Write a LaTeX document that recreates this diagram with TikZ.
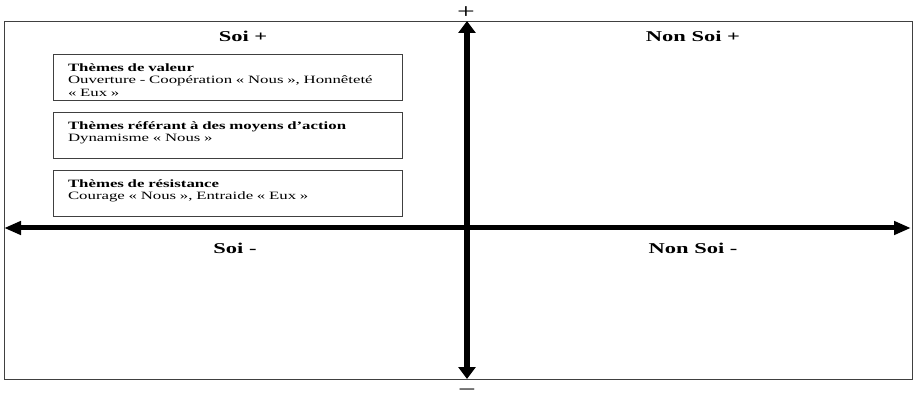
\documentclass[tikz,border=0pt]{standalone}
\usepackage{fontspec}
\setmainfont[FakeStretch=1.5]{Liberation Serif}
\usetikzlibrary{arrows.meta}

\tikzstyle{frame} = [rectangle, draw = black!75, line width = 0.9pt, minimum width = 908pt, minimum height = 358pt, inner sep = 0pt]
\tikzstyle{theme} = [rectangle, draw = black!75, line width = 0.8pt, minimum width = 349pt, minimum height = 46pt, text width = 319pt, inner xsep = 15pt, inner ysep = 8pt, text height = 9pt, text depth = 20pt, align = left, font = \fontsize{11.2}{12.5}\selectfont]
\tikzstyle{quad} = [font = \fontsize{15}{18}\selectfont\bfseries]
\tikzstyle{sign} = [font = \fontsize{21}{24}\selectfont, inner sep = 0pt]
\tikzstyle{haxis} = [line width = 5pt, draw = black, {Triangle[length=17pt, width=13pt]}-{Triangle[length=17pt, width=13pt]}]
\tikzstyle{vaxis} = [line width = 6pt, draw = black, {Triangle[length=12pt, width=17pt]}-{Triangle[length=12pt, width=17pt]}]

\begin{document}
\begin{tikzpicture}[x = 1pt, y = -1pt, node distance = 58pt]
    \useasboundingbox (0,0) rectangle (913,403);
    \node(box)[frame] at (458,200) {};
    % axis ends
    \coordinate (top) at (467,21);
    \coordinate (bottom) at (467,379);
    \coordinate (left) at (4,228);
    \coordinate (right) at (911,228);
    \draw[haxis] (left) -- (right);
    \draw[vaxis] (bottom) -- (top);
    \node(plus)[sign] at (466,13) {+};
    \node(minus)[sign] at (467,393) {−};
    % quadrants
    \node(soi_pos)[quad] at (243,36) {Soi +};
    \node(nonsoi_pos)[quad] at (693,36) {Non Soi +};
    \node(soi_neg)[quad] at (235,248) {Soi -};
    \node(nonsoi_neg)[quad] at (693,248) {Non Soi -};
    % themes
    \node(valeur)[theme] at (227.5,77) {\textbf{Thèmes de valeur}\\Ouverture - Coopération « Nous », Honnêteté\\« Eux »};
    \node(moyens)[theme, below of = valeur] {\textbf{Thèmes référant à des moyens d’action}\\Dynamisme « Nous »};
    \node(resistance)[theme, below of = moyens] {\textbf{Thèmes de résistance}\\Courage « Nous », Entraide « Eux »};
\end{tikzpicture}
\end{document}
